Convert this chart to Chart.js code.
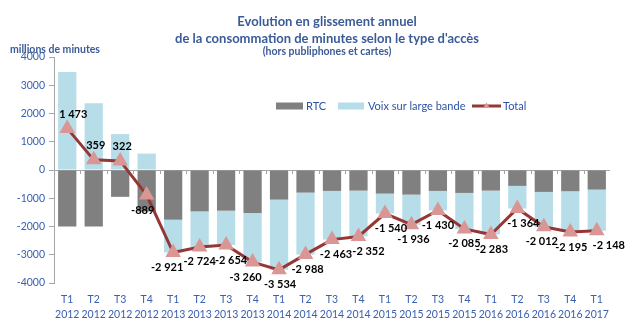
<!DOCTYPE html>
<html>
<head>
<meta charset="utf-8">
<script src="https://cdn.jsdelivr.net/npm/chart.js@4.4.1/dist/chart.umd.min.js"></script>
<style>
  body { margin: 0; background: #fff; }
  #wrap { width: 630px; height: 326px; }
</style>
</head>
<body>
<div id="wrap"><canvas id="accesChart" width="630" height="326"></canvas></div>
<script>
// Data (millions de minutes)
const quarters = ['T1', 'T2', 'T3', 'T4', 'T1', 'T2', 'T3', 'T4', 'T1', 'T2', 'T3', 'T4',
                  'T1', 'T2', 'T3', 'T4', 'T1', 'T2', 'T3', 'T4', 'T1'];
const years = ['2012', '2012', '2012', '2012', '2013', '2013', '2013', '2013', '2014', '2014', '2014', '2014',
               '2015', '2015', '2015', '2015', '2016', '2016', '2016', '2016', '2017'];
const rtc = [-2000, -2000, -950, -1470, -1760, -1466, -1441, -1524, -1050, -800, -741, -730,
             -836, -872, -741, -812, -730, -563, -776, -753, -694];
const voixLargeBande = [3473, 2359, 1272, 581, -1161, -1258, -1213, -1736, -2484, -2188, -1722, -1622,
                        -704, -1064, -689, -1273, -1553, -801, -1236, -1442, -1454];
const total = [1473, 359, 322, -889, -2921, -2724, -2654, -3260, -3534, -2988, -2463, -2352,
               -1540, -1936, -1430, -2085, -2283, -1364, -2012, -2195, -2148];
const yTicks = [-4000, -3000, -2000, -1000, 0, 1000, 2000, 3000, 4000];

// small horizontal nudges for the value labels (px)
const labelDx = [6, 2, 2, -4, -6, 0, 5, -7, 1, 2, 4, 10, 6, 2, 0, 0, 1, 6, -2, 1, 12];

const blueText = '#3a60b0';
const fontFam = 'Lato, "Open Sans", sans-serif';

function fmt(v) {
    const s = Math.abs(v).toString().replace(/\B(?=(\d{3})+(?!\d))/g, ' ');
    return (v < 0 ? '-' : '') + s;
}

// titles, unit label, legend and value labels
const decorPlugin = {
    id: 'decor',
    afterDatasetsDraw(chart) {
        const c = chart.ctx;
        const x = chart.scales.x;
        const y = chart.scales.y;
        c.save();

        // tick marks between categories on the zero line
        const y0 = y.getPixelForValue(0);
        c.strokeStyle = '#a6a6a6';
        c.lineWidth = 1;
        for (let i = 1; i < quarters.length; i++) {
            const px = Math.round((x.getPixelForValue(i - 1) + x.getPixelForValue(i)) / 2) + 0.5;
            c.beginPath();
            c.moveTo(px, y0);
            c.lineTo(px, y0 + 4);
            c.stroke();
        }

        // value labels of the total line
        c.font = 'bold 11px ' + fontFam;
        c.fillStyle = '#000';
        c.textAlign = 'center';
        c.textBaseline = 'middle';
        const meta = chart.getDatasetMeta(2);
        meta.data.forEach((pt, i) => {
            const dy = total[i] > 0 ? -14 : 15;
            c.fillText(fmt(total[i]), pt.x + labelDx[i], pt.y + dy);
        });

        // legend
        const ly = 106;
        c.font = '11px ' + fontFam;
        c.fillStyle = '#808080';
        c.fillRect(276, ly - 3.5, 27, 7);
        c.fillStyle = '#b7dde8';
        c.fillRect(338, ly - 3.5, 26, 7);
        c.strokeStyle = '#953735';
        c.lineWidth = 3;
        c.beginPath();
        c.moveTo(472, ly);
        c.lineTo(501, ly);
        c.stroke();
        c.fillStyle = '#d99694';
        c.beginPath();
        c.moveTo(486.5, ly - 3.5);
        c.lineTo(490, ly + 2);
        c.lineTo(483, ly + 2);
        c.closePath();
        c.fill();
        c.fillStyle = '#2d52a8';
        c.textAlign = 'left';
        c.fillText('RTC', 306, ly);
        c.fillText('Voix sur large bande', 368, ly);
        c.fillText('Total', 503, ly);

        // titles
        c.fillStyle = '#3a5b97';
        c.textAlign = 'center';
        c.font = 'bold 13px ' + fontFam;
        c.fillText('Evolution en glissement annuel', 327, 22);
        c.fillText("de la consommation de minutes selon le type d'accès", 327, 38.5);
        c.font = 'bold 10.5px ' + fontFam;
        c.fillText('(hors publiphones et cartes)', 327, 52);
        c.textAlign = 'left';
        c.fillText('millions de minutes', 10, 50);

        c.restore();
    }
};

const ctx = document.getElementById('accesChart').getContext('2d');
const accesChart = new Chart(ctx, {
    type: 'bar',
    data: {
        labels: quarters.map((q, i) => [q, years[i]]),
        datasets: [
            {
                label: 'RTC',
                data: rtc,
                backgroundColor: '#808080',
                barPercentage: 0.69,
                categoryPercentage: 1,
                order: 2
            },
            {
                label: 'Voix sur large bande',
                data: voixLargeBande,
                backgroundColor: '#b7dde8',
                barPercentage: 0.69,
                categoryPercentage: 1,
                order: 2
            },
            {
                type: 'line',
                label: 'Total',
                data: total,
                borderColor: '#953735',
                borderWidth: 3,
                pointStyle: 'triangle',
                pointRadius: 6,
                pointBackgroundColor: '#d99694',
                pointBorderColor: '#d99694',
                tension: 0,
                order: 1
            }
        ]
    },
    options: {
        responsive: false,
        animation: false,
        layout: { padding: { top: 57, right: 20, left: 0, bottom: 0 } },
        plugins: {
            legend: { display: false },
            tooltip: { enabled: false }
        },
        scales: {
            x: {
                stacked: true,
                grid: { display: false },
                border: { display: false },
                ticks: {
                    color: blueText,
                    font: { family: fontFam, size: 10.5, lineHeight: 1.45 },
                    maxRotation: 0,
                    autoSkip: false,
                    padding: 1
                },
                afterFit: s => { s.height = 43; }
            },
            y: {
                stacked: true,
                min: -4000,
                max: 4000,
                afterBuildTicks: s => { s.ticks = yTicks.map(v => ({ value: v })); },
                grid: {
                    color: c => (c.tick && c.tick.value === 0 ? '#a6a6a6' : 'rgba(0,0,0,0)'),
                    tickColor: '#a6a6a6',
                    tickLength: 5
                },
                border: { color: '#a6a6a6' },
                ticks: {
                    color: blueText,
                    font: { family: fontFam, size: 10.5 },
                    padding: 4,
                    callback: v => String(v)
                },
                afterFit: s => { s.width = 54; }
            }
        }
    },
    plugins: [decorPlugin]
});
</script>
</body>
</html>
